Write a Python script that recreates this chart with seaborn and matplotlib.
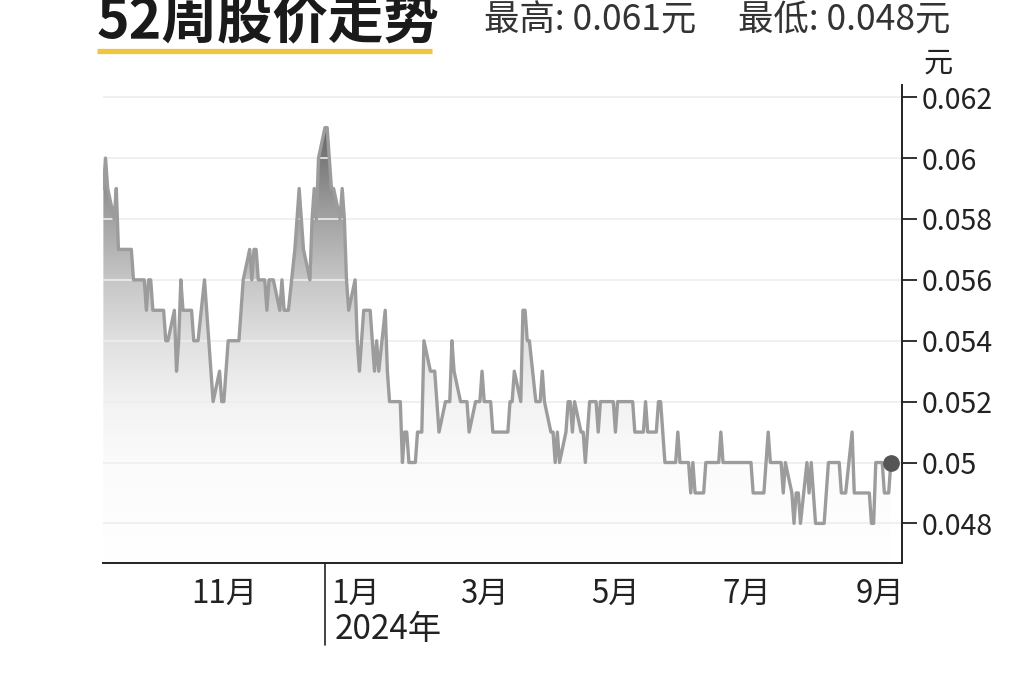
import numpy as np
import pandas as pd
import seaborn as sns
import matplotlib.pyplot as plt
import matplotlib.dates as mdates
from matplotlib.colors import LinearSegmentedColormap
from matplotlib.ticker import FuncFormatter, NullFormatter

# daily close, in thousandths of a yuan (trading days)
price_milli = [
    59, 60, 59, 58, 59, 57, 57, 57, 57, 57,
    56, 56, 56, 56, 55, 56, 56, 55, 55, 55,
    55, 54, 54, 55, 53, 54, 56, 55, 55, 55,
    54, 54, 54, 56, 55, 54, 53, 52, 53, 52,
    52, 53, 54, 54, 54, 54, 55, 56, 57, 56,
    57, 57, 56, 56, 55, 56, 56, 56, 55, 56,
    55, 55, 55, 57, 58, 59, 58, 57, 56, 58,
    59, 58, 60, 61, 61, 60, 59, 59, 58, 59,
    58, 56, 55, 56, 54, 53, 54, 55, 55, 54,
    53, 54, 53, 55, 53, 52, 52, 52, 52, 50,
    51, 51, 50, 50, 51, 51, 51, 54, 53, 53,
    53, 52, 51, 52, 52, 52, 54, 53, 52, 52,
    52, 52, 51, 52, 52, 52, 53, 52, 52, 51,
    51, 51, 51, 51, 51, 52, 52, 53, 52, 55,
    55, 54, 54, 52, 52, 52, 53, 52, 51, 51,
    50, 51, 50, 51, 52, 52, 51, 52, 51, 51,
    50, 51, 52, 52, 51, 52, 52, 52, 52, 52,
    51, 52, 52, 52, 52, 52, 52, 51, 51, 51,
    52, 51, 51, 51, 52, 52, 51, 50, 50, 50,
    50, 51, 50, 50, 50, 49, 50, 49, 49, 49,
    50, 50, 50, 50, 50, 51, 50, 50, 50, 50,
    50, 50, 50, 50, 50, 50, 49, 49, 49, 49,
    50, 51, 50, 50, 50, 50, 49, 50, 49, 48,
    49, 49, 48, 50, 49, 50, 49, 48, 48, 48,
    49, 50, 50, 50, 50, 49, 49, 49, 51, 49,
    49, 49, 49, 49, 49, 48, 48, 50, 50, 49,
    49, 49, 50,
]
start_date = '2023-09-20'
end_date = '2024-09-20'
high_price = 0.061
low_price = 0.048
y_ticks = [0.048, 0.05, 0.052, 0.054, 0.056, 0.058, 0.06, 0.062]
label_months = [1, 3, 5, 7, 9, 11]

dates = pd.bdate_range(start_date, end_date)
df = pd.DataFrame({'date': dates, 'price': np.array(price_milli) / 1000})

sns.set_style('white')
plt.rcParams['font.family'] = ['Noto Sans CJK SC', 'DejaVu Sans']
plt.rcParams['axes.unicode_minus'] = False

fig = plt.figure(figsize=(10.24, 6.82), dpi=100)
ax = fig.add_axes([0.1006, 0.1745, 0.7803, 0.7009])

ymin, ymax = 0.0467, 0.0624
xmin = pd.Timestamp('2023-09-19 20:00')
xmax = pd.Timestamp('2024-09-25 05:00')

# grey gradient under the line
poly = ax.fill_between(df['date'], df['price'], ymin, color='none', lw=0)
fade = LinearSegmentedColormap.from_list('fade', [
    (0.0, '#ffffff'), (0.21, '#fbfbfb'), (0.338, '#f2f2f2'),
    (0.465, '#e0e0e0'), (0.592, '#c6c6c6'), (0.72, '#a3a3a3'),
    (0.847, '#7b7b7b'), (0.924, '#5e5e5e'), (1.0, '#505050')])
grad = np.linspace(ymin, ymax, 256).reshape(-1, 1)
im = ax.imshow(grad, cmap=fade, vmin=ymin, vmax=ymax, aspect='auto', origin='lower',
               extent=[mdates.date2num(xmin), mdates.date2num(xmax), ymin, ymax], zorder=1)
im.set_clip_path(poly.get_paths()[0], transform=ax.transData)

for y in y_ticks:
    ax.axhline(y, color='#eeeeee', lw=1.2, zorder=2)

sns.lineplot(data=df, x='date', y='price', color='#9c9c9c', lw=2.4, ax=ax, zorder=3)
ax.plot(df['date'].iloc[-1], df['price'].iloc[-1], 'o', color='#555555', ms=11,
        zorder=4, clip_on=False)

ax.set_xlim(xmin, xmax)
ax.set_ylim(ymin, ymax)
ax.set_xlabel('')
ax.set_ylabel('')

for side in ['left', 'top']:
    ax.spines[side].set_visible(False)
for side in ['right', 'bottom']:
    ax.spines[side].set_color('#222222')
    ax.spines[side].set_linewidth(1.4)

# y axis on the right
ax.yaxis.tick_right()
ax.set_yticks(y_ticks)
ax.yaxis.set_major_formatter(FuncFormatter(lambda v, pos: f'{v:g}'))
ax.tick_params(axis='y', direction='out', length=11, width=1.3, pad=3,
               labelsize=20.5, colors='#222222')

# x axis: month ticks, labels mid-month
ax.xaxis.set_major_locator(mdates.MonthLocator())
ax.xaxis.set_major_formatter(NullFormatter())
ax.xaxis.set_minor_locator(mdates.MonthLocator(bymonth=label_months, bymonthday=15))
ax.xaxis.set_minor_formatter(FuncFormatter(lambda x, pos: f'{mdates.num2date(x).month}月'))
ax.tick_params(axis='x', which='major', direction='out', length=10, width=1.2, color='#222222')
ax.tick_params(axis='x', which='minor', length=0, pad=11, labelsize=22.5, labelcolor='#222222')

jan1 = mdates.date2num(pd.Timestamp('2024-01-01'))
ax.plot([jan1, jan1], [0, -0.172], transform=ax.get_xaxis_transform(),
        color='#222222', lw=1.2, clip_on=False)
ax.annotate('2024年', xy=(jan1, 0), xycoords=ax.get_xaxis_transform(),
            xytext=(7, -35), textcoords='offset points', ha='left', va='top',
            fontsize=24, color='#222222')

# header
fig.text(97 / 1024, 1 - 37 / 682, '52周股价走势', fontsize=40, fontweight='bold',
         color='#1a1a1a', ha='left', va='baseline')
fig.add_artist(plt.Line2D([97 / 1024, 432 / 1024], [1 - 51 / 682] * 2,
                          color='#f0c540', lw=3.8, solid_capstyle='butt'))
fig.text(484 / 1024, 1 - 30 / 682, f'最高: {high_price}元', fontsize=25.5,
         color='#333333', ha='left', va='baseline')
fig.text(738 / 1024, 1 - 30 / 682, f'最低: {low_price}元', fontsize=25.5,
         color='#333333', ha='left', va='baseline')
fig.text(938 / 1024, 1 - 64 / 682, '元', fontsize=21, color='#222222',
         ha='center', va='center')

fig.savefig('out.png', dpi=100)
